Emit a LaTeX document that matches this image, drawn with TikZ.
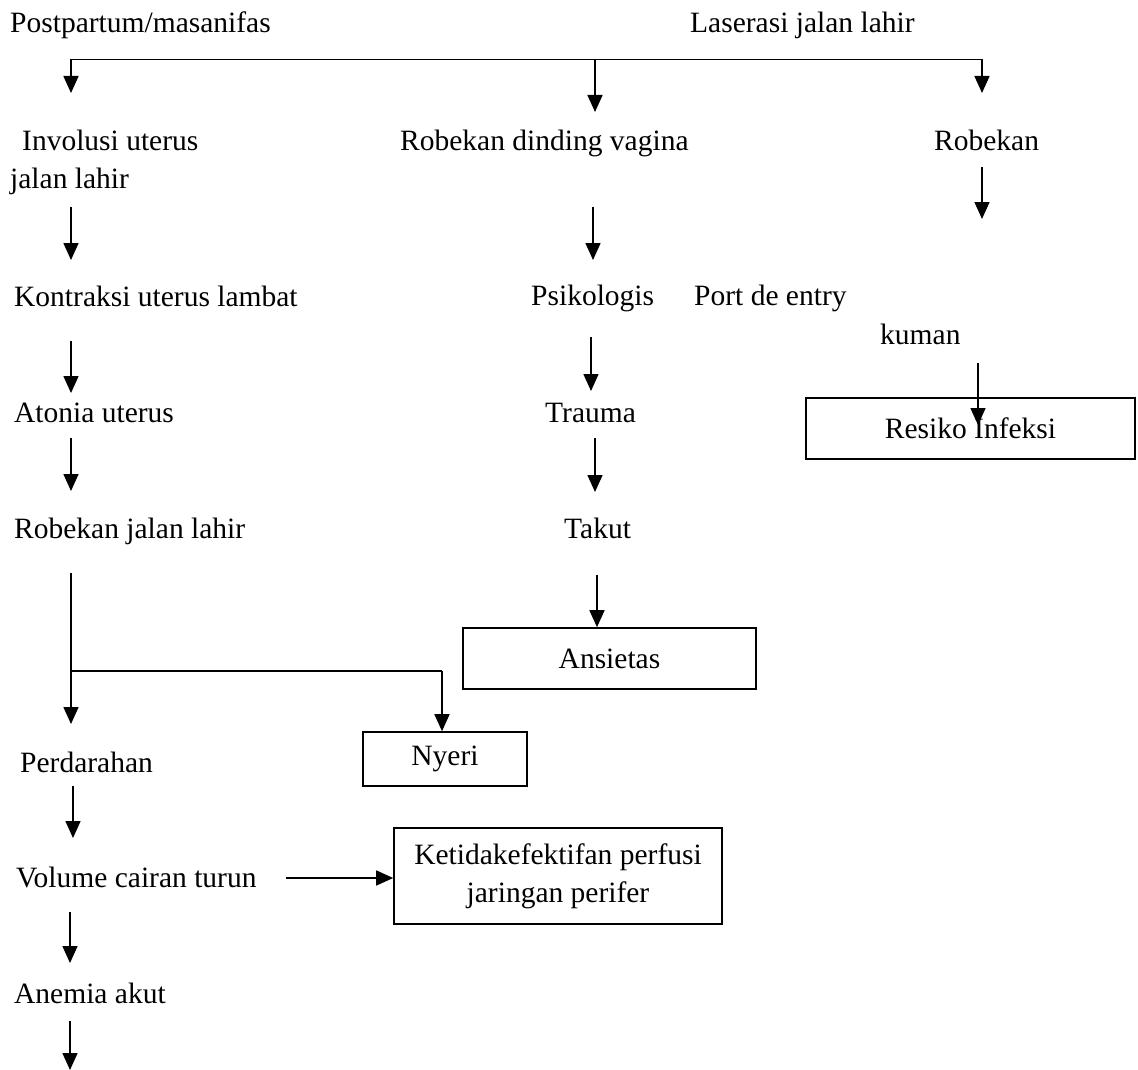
\documentclass[tikz,border=0pt]{standalone}
\usepackage{fontspec}
\setmainfont{Liberation Serif}
\usetikzlibrary{arrows.meta}
\begin{document}
\begin{tikzpicture}[x=1pt,y=-1pt,
  every node/.style={font=\fontsize{29.5}{38}\selectfont},
  lbl/.style={anchor=base west,inner sep=0pt},
  boxed/.style={draw,line width=1.6pt,inner sep=0pt,align=center},
  conn/.style={line width=1.6pt},
  arr/.style={line width=1.6pt,-{Triangle[length=17pt,width=15pt]}}]
\useasboundingbox (0,0) rectangle (1138,1070);
% text labels
\node[lbl] (post) at (10,33) {Postpartum/masanifas};
\node[lbl] (lase) at (690,33) {Laserasi jalan lahir};
\node[lbl] (inv) at (22,150) {Involusi uterus};
\node[lbl] (rdv) at (400,150) {Robekan dinding vagina};
\node[lbl] (robk) at (934,150) {Robekan};
\node[lbl] (jal) at (10,188) {jalan lahir};
\node[lbl] (kon) at (14,306) {Kontraksi uterus lambat};
\node[lbl] (psi) at (531,305) {Psikologis};
\node[lbl] (port) at (694,305) {Port de entry};
\node[lbl] (kum) at (880,344) {kuman};
\node[lbl] (ato) at (14,422) {Atonia uterus};
\node[lbl] (tra) at (545,422) {Trauma};
\node[lbl] (rjl) at (14,538) {Robekan jalan lahir};
\node[lbl] (tak) at (564,538) {Takut};
\node[lbl] (perd) at (20,772) {Perdarahan};
\node[lbl] (vol) at (16,887) {Volume cairan turun};
\node[lbl] (ane) at (14,1003) {Anemia akut};
% boxes
\node[boxed,minimum width=329pt,minimum height=61pt] (res) at (970.5,428.5) {Resiko Infeksi};
\node[boxed,minimum width=293pt,minimum height=61pt] (ans) at (609.5,658.5) {Ansietas};
\node[boxed,minimum width=164pt,minimum height=54pt] (nye) at (445,759) {Nyeri};
\node[boxed,minimum width=328pt,minimum height=96pt] (per) at (558,876) {Ketidakefektifan perfusi\\jaringan perifer};
% connector points
\coordinate (tL) at (71,59.5);
\coordinate (tM) at (595,59.5);
\coordinate (tR) at (982,59.5);
\coordinate (aInv) at (71,93);
\coordinate (aRdv) at (595,112);
\coordinate (aRob) at (982,93);
% top split
\draw[conn] (tL) -- (tR);
\draw[arr] (tL) -- (aInv);
\draw[arr] (tM) -- (aRdv);
\draw[arr] (tR) -- (aRob);
% left column
\draw[arr] (71,207) -- (71,260);
\draw[arr] (71,341) -- (71,393);
\draw[arr] (71,438) -- (71,491);
\coordinate (jn) at (71,671);
\coordinate (jr) at (442,671);
\draw[conn] (71,573) -- (jn);
\draw[arr] (jn) -- (71,724);
\draw[conn] (jn) -- (jr);
\draw[arr] (jr) -- (nye.north -| jr);
\draw[arr] (73,786) -- (73,838);
\draw[arr] (286,878) -- (per.west |- 286,878);
\draw[arr] (70,912) -- (70,963);
\draw[arr] (70,1021) -- (70,1070);
% middle column
\draw[arr] (593,207) -- (593,260);
\draw[arr] (591,337) -- (591,391);
\draw[arr] (595,438) -- (595,492);
\draw[arr] (597,575) -- (ans.north -| 597,0);
% right column
\draw[arr] (982,167) -- (982,219);
\draw[arr] (978,363) -- (978,425);
\end{tikzpicture}
\end{document}
